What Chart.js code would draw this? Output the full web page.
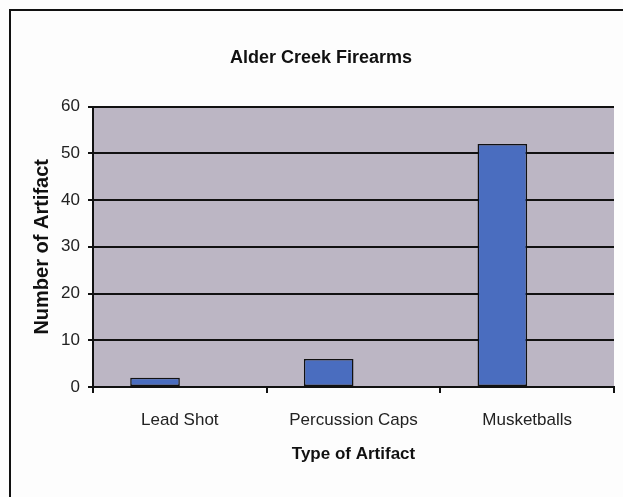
<!DOCTYPE html>
<html>
<head>
<meta charset="utf-8">
<script src="https://cdn.jsdelivr.net/npm/chart.js@4"></script>
<style>
  html, body { margin: 0; padding: 0; background: #fdfdfd; }
  #wrap { width: 623px; height: 497px; }
</style>
</head>
<body>
<div id="wrap"><canvas id="chart" width="623" height="497"></canvas></div>
<script>
const categories = ['Lead Shot', 'Percussion Caps', 'Musketballs'];
const artifactCounts = [2, 6, 52];
const emptySeries = [null, null, null];
const yTicks = [0, 10, 20, 30, 40, 50, 60];

const FONT = '"Liberation Sans", Arial, sans-serif';
const plotBg = '#bcb6c4';
const barColor = '#4a6dbf';

// plot area fill and the scanned page frame
const framePlugin = {
    id: 'frame',
    afterLayout(chart) {
        // title sits a bit right of the canvas centre in the scan
        if (chart.titleBlock) {
            chart.titleBlock.left += 14;
            chart.titleBlock.right += 14;
        }
    },
    beforeDraw(chart) {
        const {ctx, chartArea} = chart;
        ctx.save();
        ctx.fillStyle = plotBg;
        ctx.fillRect(chartArea.left, chartArea.top,
            chartArea.right - chartArea.left, chartArea.bottom - chartArea.top);
        ctx.strokeStyle = '#111';
        ctx.lineWidth = 2;
        ctx.beginPath();
        ctx.moveTo(10, 497);
        ctx.lineTo(10, 10);
        ctx.lineTo(623, 10);
        ctx.stroke();
        ctx.restore();
    }
};

new Chart(document.getElementById('chart'), {
    type: 'bar',
    data: {
        labels: categories,
        datasets: [
            {
                label: 'Artifacts',
                data: artifactCounts,
                backgroundColor: barColor,
                borderColor: '#111',
                borderWidth: 1.5,
                borderSkipped: false
            },
            {
                label: '',
                data: emptySeries
            }
        ]
    },
    options: {
        responsive: false,
        animation: false,
        categoryPercentage: 2 / 3.5,
        barPercentage: 1,
        layout: {padding: {left: 0, right: 9, top: 0, bottom: 0}},
        plugins: {
            legend: {display: false},
            tooltip: {enabled: false},
            title: {
                display: true,
                text: 'Alder Creek Firearms',
                color: '#111',
                font: {family: FONT, size: 18, weight: 'bold'},
                padding: {top: 47, bottom: 38}
            }
        },
        scales: {
            x: {
                afterFit(scale) { scale.height = 110; },
                grid: {drawOnChartArea: false, color: '#111', tickLength: 6, lineWidth: 2},
                border: {color: '#111', width: 2},
                ticks: {color: '#222', font: {family: FONT, size: 17}, padding: 17},
                title: {
                    display: true,
                    text: 'Type of Artifact',
                    color: '#111',
                    font: {family: FONT, size: 17, weight: 'bold'},
                    padding: {top: 4, bottom: 32}
                }
            },
            y: {
                min: 0,
                max: 60,
                afterFit(scale) { scale.width = 93; },
                afterBuildTicks(scale) { scale.ticks = yTicks.map(v => ({value: v})); },
                grid: {color: '#111', lineWidth: 2, tickLength: 5},
                border: {color: '#111', width: 2},
                ticks: {color: '#222', font: {family: FONT, size: 17}, padding: 8},
                title: {
                    display: true,
                    text: 'Number of Artifact',
                    color: '#111',
                    font: {family: FONT, size: 20, weight: 'bold'},
                    padding: {top: 30, bottom: 0}
                }
            }
        }
    },
    plugins: [framePlugin]
});
</script>
</body>
</html>
